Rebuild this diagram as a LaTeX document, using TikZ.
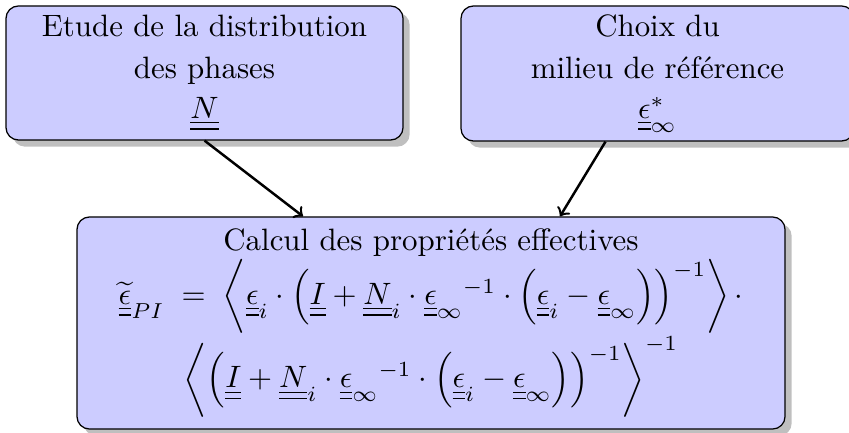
\documentclass[tikz,border=0pt]{standalone}
\usetikzlibrary{shadows}
\begin{document}
\begin{tikzpicture}[x=0.3236pt,y=-0.3236pt,
  box/.style={draw, fill=blue!20, rounded corners=4pt, drop shadow, align=center, inner sep=0pt},
  arr/.style={->, thick}]
\useasboundingbox (0,0) rectangle (849,433);
\clip (0,0) rectangle (849,433);
\node[box, minimum width=397*0.3236pt, minimum height=134*0.3236pt] (A) at (204.5,73)
  {Etude de la distribution\\[1.5pt] des phases\\[1pt] $\underline{\underline{N}}$};
\node[box, minimum width=393*0.3236pt, minimum height=135*0.3236pt] (B) at (657.5,73.5)
  {Choix du\\[1.5pt] milieu de référence\\[1pt] $\underline{\underline{\epsilon}}^*_\infty$};
\node[box, minimum width=708*0.3236pt, minimum height=212*0.3236pt] (C) at (431,323)
  {Calcul des propriétés effectives\\
  $\widetilde{\underline{\underline{\epsilon}}}_{PI} \;=\; \left\langle \underline{\underline{\epsilon}}_i \cdot \left( \underline{\underline{I}} + \underline{\underline{N}}_i \cdot {\underline{\underline{\epsilon}}_\infty}^{-1} \cdot \left( \underline{\underline{\epsilon}}_i - \underline{\underline{\epsilon}}_\infty \right)\right)^{-1} \right\rangle \cdot$\\
  $\left\langle \left( \underline{\underline{I}} + \underline{\underline{N}}_i \cdot {\underline{\underline{\epsilon}}_\infty}^{-1} \cdot \left(\underline{\underline{\epsilon}}_i - \underline{\underline{\epsilon}}_\infty\right)\right)^{-1}\right\rangle^{-1}$};
\draw[arr] (A.south) -- ([xshift=-128*0.3236pt]C.north);
\draw[arr] ([xshift=-52*0.3236pt]B.south) -- ([xshift=129*0.3236pt]C.north);
\end{tikzpicture}
\end{document}
